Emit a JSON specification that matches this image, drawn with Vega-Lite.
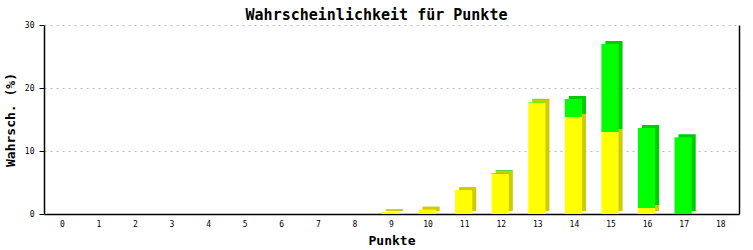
{
  "$schema": "https://vega.github.io/schema/vega-lite/v6.json",
  "width": 695,
  "height": 189,
  "autosize": {"type": "none"},
  "padding": {"left": 44, "top": 25, "right": 14, "bottom": 36},
  "background": "white",
  "title": {
    "text": "Wahrscheinlichkeit für Punkte",
    "font": "DejaVu Sans Mono",
    "fontSize": 15,
    "fontWeight": "bold",
    "color": "black",
    "anchor": "middle",
    "dx": -15,
    "dy": 5,
    "offset": 3
  },
  "data": {
    "values": [
      {"Punkte": 9, "s": "A", "o": 1, "value": 0.3},
      {"Punkte": 10, "s": "A", "o": 1, "value": 0.7},
      {"Punkte": 11, "s": "A", "o": 1, "value": 3.8},
      {"Punkte": 12, "s": "A", "o": 1, "value": 6.4},
      {"Punkte": 12, "s": "B", "o": 2, "value": 0.1},
      {"Punkte": 13, "s": "A", "o": 1, "value": 17.7},
      {"Punkte": 13, "s": "B", "o": 2, "value": 0.1},
      {"Punkte": 14, "s": "A", "o": 1, "value": 15.4},
      {"Punkte": 14, "s": "B", "o": 2, "value": 2.85},
      {"Punkte": 15, "s": "A", "o": 1, "value": 13.0},
      {"Punkte": 15, "s": "B", "o": 2, "value": 14.0},
      {"Punkte": 16, "s": "A", "o": 1, "value": 0.95},
      {"Punkte": 16, "s": "B", "o": 2, "value": 12.7},
      {"Punkte": 17, "s": "B", "o": 2, "value": 12.2}
    ]
  },
  "encoding": {
    "x": {
      "field": "Punkte",
      "type": "ordinal",
      "scale": {"domain": [0,1,2,3,4,5,6,7,8,9,10,11,12,13,14,15,16,17,18], "paddingInner": 0, "paddingOuter": 0},
      "axis": {
        "title": "Punkte",
        "labelAngle": 0,
        "ticks": false,
        "domain": true,
        "labelPadding": 6,
        "titlePadding": 6
      }
    },
    "order": {"field": "o", "type": "quantitative"}
  },
  "layer": [
    {
      "mark": {"type": "bar", "width": {"band": 0.47}, "xOffset": 3, "yOffset": -3},
      "encoding": {
        "y": {
          "field": "value",
          "type": "quantitative",
          "aggregate": "sum",
          "stack": "zero",
          "scale": {"domain": [0, 30], "nice": false},
          "axis": {
            "title": "Wahrsch. (%)",
            "orient": "left",
            "values": [0, 10, 20, 30],
            "tickSize": 5,
            "labelPadding": 5,
            "titlePadding": 7,
            "grid": true,
            "domain": true
          }
        },
        "color": {
          "field": "s",
          "type": "nominal",
          "scale": {"domain": ["A", "B"], "range": ["#CCCC00", "#00CC00"]},
          "legend": null
        }
      }
    },
    {
      "mark": {"type": "bar", "width": {"band": 0.47}, "xOffset": -1},
      "encoding": {
        "y": {
          "field": "value",
          "type": "quantitative",
          "aggregate": "sum",
          "stack": "zero",
          "scale": {"domain": [0, 30], "nice": false},
          "axis": {
            "title": null,
            "orient": "right",
            "labels": false,
            "ticks": false,
            "grid": false,
            "domain": true
          }
        },
        "color": {
          "field": "s",
          "type": "nominal",
          "scale": {"domain": ["A", "B"], "range": ["#FFFF00", "#00FF00"]},
          "legend": null
        }
      }
    }
  ],
  "resolve": {"scale": {"color": "independent"}, "axis": {"y": "independent"}},
  "config": {
    "view": {"stroke": null},
    "bar": {"cornerRadius": 0},
    "axis": {
      "labelFont": "DejaVu Sans Mono",
      "labelFontSize": 8,
      "labelColor": "black",
      "titleFont": "DejaVu Sans Mono",
      "titleFontSize": 13,
      "titleFontWeight": "bold",
      "titleColor": "black",
      "domainColor": "black",
      "domainWidth": 1.5,
      "tickColor": "black",
      "gridColor": "#BBBBBB",
      "gridDash": [2, 4],
      "gridWidth": 1
    }
  }
}
